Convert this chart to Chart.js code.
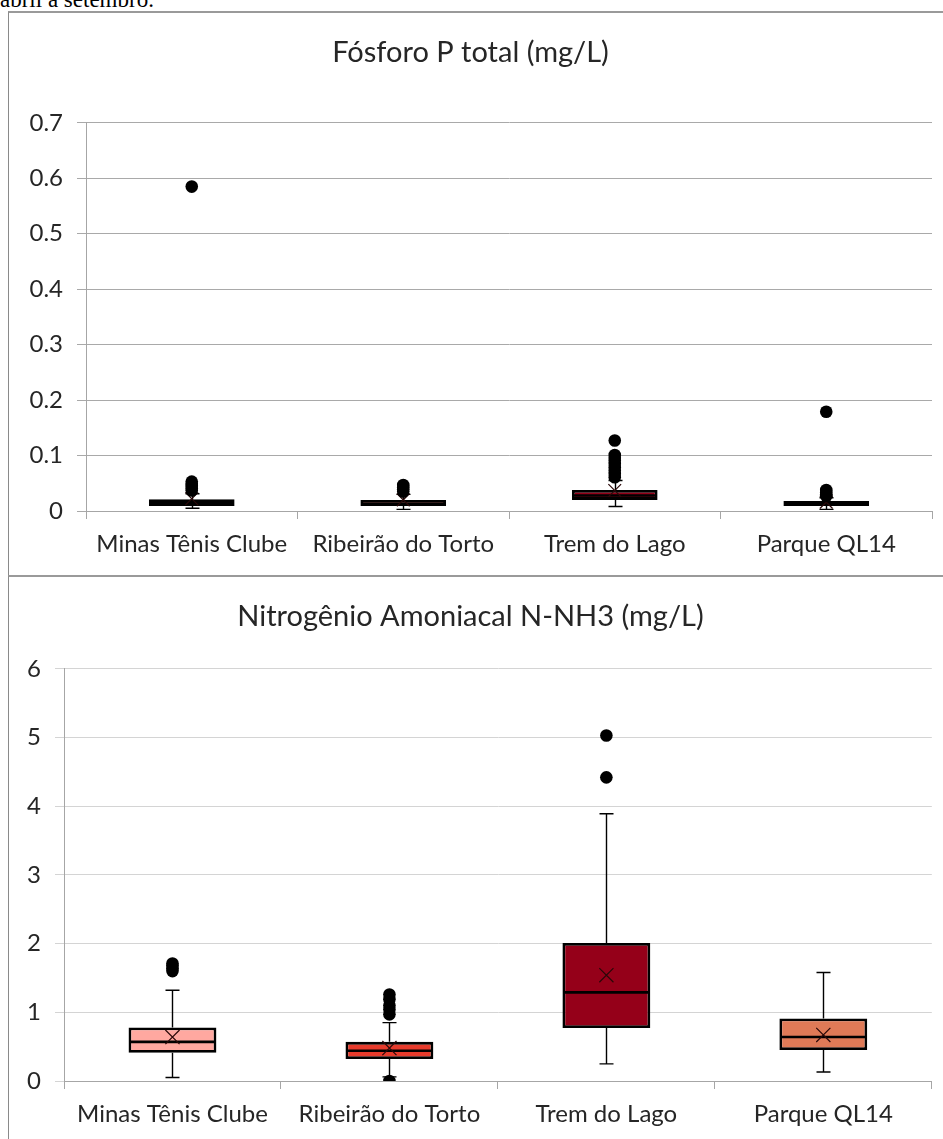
<!DOCTYPE html>
<html>
<head>
<meta charset="utf-8">
<script src="https://cdn.jsdelivr.net/npm/chart.js@4.4.1/dist/chart.umd.min.js"></script>
<style>
  html, body { margin: 0; padding: 0; background: #fff; overflow: hidden; }
  body { width: 943px; height: 1139px; position: relative; }
  #caption { position: absolute; left: 0; top: -12px; font-family: "Liberation Serif", "DejaVu Serif", serif; font-size: 23px; line-height: 23px; color: #000; white-space: nowrap; }
  .frame { position: absolute; border-left: 1px solid #8a8a8a; border-top: 2px solid #9a9a9a; box-sizing: border-box; }
  #f1 { left: 8px; top: 11px; width: 935px; height: 566px; }
  #f2 { left: 8px; top: 575px; width: 935px; height: 564px; }
  .wrap { position: absolute; }
  #w1 { left: 9px; top: 13px; width: 934px; height: 563px; }
  #w2 { left: 9px; top: 577px; width: 934px; height: 562px; }
</style>
</head>
<body>
<div id="caption">abril a setembro.</div>
<div class="frame" id="f1"></div>
<div class="frame" id="f2"></div>
<div class="wrap" id="w1"><canvas id="c1"></canvas></div>
<div class="wrap" id="w2"><canvas id="c2"></canvas></div>
<script>
// ---------- data ----------
const categories = ['Minas Tênis Clube', 'Ribeirão do Torto', 'Trem do Lago', 'Parque QL14'];
const boxColors = ['#FFA8A0', '#E63A2B', '#950019', '#E07A57'];

// Fósforo P total (mg/L)
const pTitle = 'Fósforo P total (mg/L)';
const pTickLabels = ['0', '0.1', '0.2', '0.3', '0.4', '0.5', '0.6', '0.7'];
const pMin    = [0.005, 0.003, 0.008, 0.003];
const pQ1     = [0.009, 0.009, 0.020, 0.009];
const pMedian = [0.014, 0.013, 0.028, 0.013];
const pQ3     = [0.021, 0.020, 0.038, 0.018];
const pMax    = [0.031, 0.030, 0.055, 0.024];
const pMean   = [0.022, 0.020, 0.037, 0.016];
const pOutliers = [
  [0.585, 0.053, 0.049, 0.045, 0.041, 0.037],
  [0.047, 0.043, 0.039, 0.035],
  [0.127, 0.101, 0.096, 0.091, 0.085, 0.079, 0.073, 0.067, 0.061],
  [0.179, 0.038, 0.034, 0.030, 0.027]
];

// Nitrogênio Amoniacal N-NH3 (mg/L)
const nTitle = 'Nitrogênio Amoniacal N-NH3 (mg/L)';
const nTickLabels = ['0', '1', '2', '3', '4', '5', '6'];
const nMin    = [0.05, 0.06, 0.25, 0.13];
const nQ1     = [0.41, 0.32, 0.77, 0.45];
const nMedian = [0.57, 0.44, 1.29, 0.64];
const nQ3     = [0.78, 0.57, 2.01, 0.91];
const nMax    = [1.32, 0.85, 3.89, 1.58];
const nMean   = [0.64, 0.48, 1.54, 0.67];
const nOutliers = [
  [1.60, 1.64, 1.68, 1.71],
  [0.00, 0.97, 1.04, 1.10, 1.19, 1.26],
  [4.42, 5.03],
  []
];

// ---------- helpers ----------
const FONT = 'Lato, "Open Sans", sans-serif';

function makeBoxPlugin(s) {
  return {
    id: 'boxParts',
    beforeDatasetsDraw(chart) {
      const xs = chart.scales.x, ys = chart.scales.y, ctx = chart.ctx;
      ctx.save();
      ctx.strokeStyle = '#000';
      ctx.lineWidth = 1.4;
      const cap = 7;
      for (let i = 0; i < categories.length; i++) {
        const x = Math.round(xs.getPixelForValue(i)) + 0.5;
        const yq3 = ys.getPixelForValue(s.q3[i]), yMax = ys.getPixelForValue(s.hi[i]);
        const yq1 = ys.getPixelForValue(s.q1[i]), yMin = ys.getPixelForValue(s.lo[i]);
        ctx.beginPath();
        ctx.moveTo(x, yq3); ctx.lineTo(x, yMax);
        ctx.moveTo(x - cap, yMax); ctx.lineTo(x + cap, yMax);
        ctx.moveTo(x, yq1); ctx.lineTo(x, yMin);
        ctx.moveTo(x - cap, yMin); ctx.lineTo(x + cap, yMin);
        ctx.stroke();
      }
      ctx.restore();
    },
    afterDatasetDraw(chart, args) {
      if (args.index !== 0) return;
      const ys = chart.scales.y, ctx = chart.ctx;
      const meta = chart.getDatasetMeta(0);
      ctx.save();
      ctx.strokeStyle = '#000';
      ctx.lineWidth = 2.6;
      meta.data.forEach((bar, i) => {
        const y = ys.getPixelForValue(s.median[i]);
        ctx.beginPath();
        ctx.moveTo(bar.x - bar.width / 2 + 1, y);
        ctx.lineTo(bar.x + bar.width / 2 - 1, y);
        ctx.stroke();
      });
      ctx.restore();
    }
  };
}

function buildChart(canvasId, cfg) {
  const outlierPts = [];
  cfg.outliers.forEach((arr, i) => arr.forEach(v => outlierPts.push({ x: categories[i], y: v })));
  return new Chart(document.getElementById(canvasId), {
    type: 'bar',
    data: {
      labels: categories,
      datasets: [
        {
          type: 'bar',
          data: cfg.q1.map((v, i) => [v, cfg.q3[i]]),
          backgroundColor: boxColors,
          borderColor: '#000',
          borderWidth: 2.8,
          borderSkipped: false,
          barPercentage: 1,
          categoryPercentage: 0.405,
          order: 2
        },
        {
          type: 'line',
          data: cfg.mean,
          showLine: false,
          pointStyle: 'crossRot',
          pointRadius: cfg.meanRadius,
          pointBorderColor: '#2a0808',
          pointBorderWidth: 1.2,
          pointBackgroundColor: 'transparent',
          order: 1
        },
        {
          type: 'line',
          data: outlierPts,
          showLine: false,
          pointStyle: 'circle',
          pointRadius: 6.3,
          pointBackgroundColor: '#000',
          pointBorderColor: '#000',
          pointBorderWidth: 0,
          order: 0
        }
      ]
    },
    options: {
      responsive: true,
      maintainAspectRatio: false,
      animation: false,
      events: [],
      layout: { padding: { left: 0, right: 11, top: 0, bottom: 0 } },
      plugins: {
        legend: { display: false },
        tooltip: { enabled: false },
        title: {
          display: true,
          text: cfg.title,
          color: '#262626',
          font: { family: FONT, size: 29, weight: 'normal', lineHeight: 1.2 },
          padding: { top: 22, bottom: cfg.titleBottom }
        }
      },
      scales: {
        x: {
          type: 'category',
          offset: true,
          grid: { display: true, offset: true, drawOnChartArea: false, drawTicks: true, tickLength: 8, color: '#a6a6a6', lineWidth: 1 },
          border: { display: true, color: '#a6a6a6', width: 1 },
          ticks: { color: '#262626', font: { family: FONT, size: 24 }, padding: 11, maxRotation: 0, autoSkip: false },
          afterFit(scale) { scale.height = cfg.xHeight; }
        },
        y: {
          type: 'linear',
          min: 0,
          max: cfg.yMax,
          grid: { color: cfg.gridColor, lineWidth: 1, drawTicks: true, tickLength: 9 },
          border: { display: true, color: '#a6a6a6', width: 1 },
          ticks: {
            stepSize: cfg.step,
            color: '#262626',
            font: { family: FONT, size: 24 },
            padding: 14,
            callback: (v, i) => cfg.tickLabels[i]
          },
          afterFit(scale) { scale.width = cfg.yWidth; }
        }
      }
    },
    plugins: [makeBoxPlugin(cfg)]
  });
}

buildChart('c1', {
  title: pTitle, tickLabels: pTickLabels, yMax: 0.7, step: 0.1,
  lo: pMin, q1: pQ1, median: pMedian, q3: pQ3, hi: pMax, mean: pMean, outliers: pOutliers,
  yWidth: 77, xHeight: 65, titleBottom: 53, gridColor: '#a9a9a9', meanRadius: 9
});

buildChart('c2', {
  title: nTitle, tickLabels: nTickLabels, yMax: 6, step: 1,
  lo: nMin, q1: nQ1, median: nMedian, q3: nQ3, hi: nMax, mean: nMean, outliers: nOutliers,
  yWidth: 55, xHeight: 58, titleBottom: 35, gridColor: '#d4d4d4', meanRadius: 10
});
</script>
</body>
</html>
